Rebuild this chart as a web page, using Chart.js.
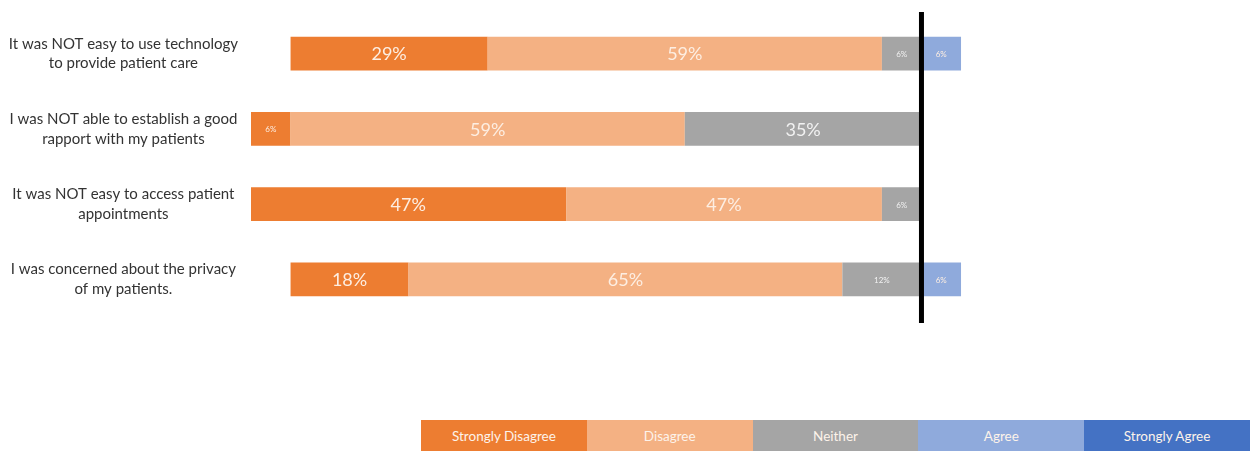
<!DOCTYPE html>
<html>
<head>
<meta charset="utf-8">
<script src="https://cdn.jsdelivr.net/npm/chart.js@4.4.1/dist/chart.umd.min.js"></script>
<style>
  html, body { margin: 0; padding: 0; background: #ffffff; }
  #wrap { position: relative; width: 1250px; height: 451px; }
  #legend { position: absolute; left: 421px; top: 420px; width: 829px; height: 31px; display: flex; }
  #legend div { flex: 1; display: flex; align-items: center; justify-content: center;
    font-family: Lato, "Open Sans", sans-serif; font-size: 13.5px; color: #fdf3ea; }
</style>
</head>
<body>
<div id="wrap">
  <canvas id="c" width="1250" height="451"></canvas>
  <div id="legend"></div>
</div>
<script>
const categories = [
  ["It was NOT easy to use technology", "to provide patient care"],
  ["I was NOT able to establish a good", "rapport with my patients"],
  ["It was NOT easy to access patient", "appointments"],
  ["I was concerned about the privacy", "of my patients."]
];
const seriesNames = ["Strongly Disagree", "Disagree", "Neither", "Agree", "Strongly Agree"];
const stronglyDisagree = [29.4, 5.9, 47.1, 17.6];
const disagree = [58.8, 58.8, 47.1, 64.7];
const neither = [5.9, 35.3, 5.9, 11.8];
const agree = [5.9, 0, 0, 5.9];
const stronglyAgree = [0, 0, 0, 0];
const colors = ["#ED7D31", "#F4B183", "#A5A5A5", "#8FAADC", "#4472C4"];

// Legend (HTML, boxes with text inside)
const legendEl = document.getElementById('legend');
seriesNames.forEach((n, i) => {
  const d = document.createElement('div');
  d.style.background = colors[i];
  d.textContent = n;
  legendEl.appendChild(d);
});

const neg = arr => arr.map(v => -v);

// Datasets: negative side stacks outward from zero in dataset order
const datasets = [
  { label: seriesNames[2], data: neg(neither), backgroundColor: colors[2] },
  { label: seriesNames[1], data: neg(disagree), backgroundColor: colors[1] },
  { label: seriesNames[0], data: neg(stronglyDisagree), backgroundColor: colors[0] },
  { label: seriesNames[3], data: agree, backgroundColor: colors[3] },
  { label: seriesNames[4], data: stronglyAgree, backgroundColor: colors[4] }
];

const valueLabels = {
  id: 'valueLabels',
  afterDatasetsDraw(chart) {
    const ctx = chart.ctx;
    ctx.save();
    ctx.textAlign = 'center';
    ctx.textBaseline = 'middle';
    chart.data.datasets.forEach((ds, di) => {
      const meta = chart.getDatasetMeta(di);
      meta.data.forEach((bar, i) => {
        const v = Math.round(Math.abs(ds.data[i]));
        if (!v) return;
        const big = v >= 15;
        ctx.font = big ? '18px Lato, "Open Sans", sans-serif' : '8px Lato, "Open Sans", sans-serif';
        ctx.fillStyle = ds.label === 'Neither' ? 'rgba(255,255,255,0.85)' : '#fdeee2';
        const x = (bar.x + bar.base) / 2;
        ctx.fillText(v + '%', x, bar.y + 1);
      });
    });
    ctx.restore();
  }
};

const zeroLine = {
  id: 'zeroLine',
  afterDatasetsDraw(chart) {
    const x = chart.scales.x.getPixelForValue(0);
    const ctx = chart.ctx;
    ctx.save();
    ctx.strokeStyle = '#000000';
    ctx.lineWidth = 5;
    ctx.beginPath();
    ctx.moveTo(x, 12);
    ctx.lineTo(x, 323);
    ctx.stroke();
    ctx.restore();
  }
};

new Chart(document.getElementById('c'), {
  type: 'bar',
  data: { labels: categories, datasets },
  options: {
    indexAxis: 'y',
    responsive: false,
    animation: false,
    layout: { padding: { top: 16, bottom: 134, left: 0, right: 0 } },
    plugins: { legend: { display: false }, tooltip: { enabled: false } },
    datasets: { bar: { barPercentage: 0.45, categoryPercentage: 1.0 } },
    scales: {
      x: {
        stacked: true, min: -100, max: 49, display: false
      },
      y: {
        stacked: true,
        grid: { display: false },
        border: { display: false },
        afterFit(scale) { scale.width = 251; scale.paddingTop = 0; scale.paddingBottom = 0; },
        ticks: {
          crossAlign: 'center',
          padding: 5,
          color: '#333333',
          font: { family: 'Lato, "Open Sans", sans-serif', size: 15, lineHeight: 1.32 }
        }
      }
    }
  },
  plugins: [valueLabels, zeroLine]
});
</script>
</body>
</html>
